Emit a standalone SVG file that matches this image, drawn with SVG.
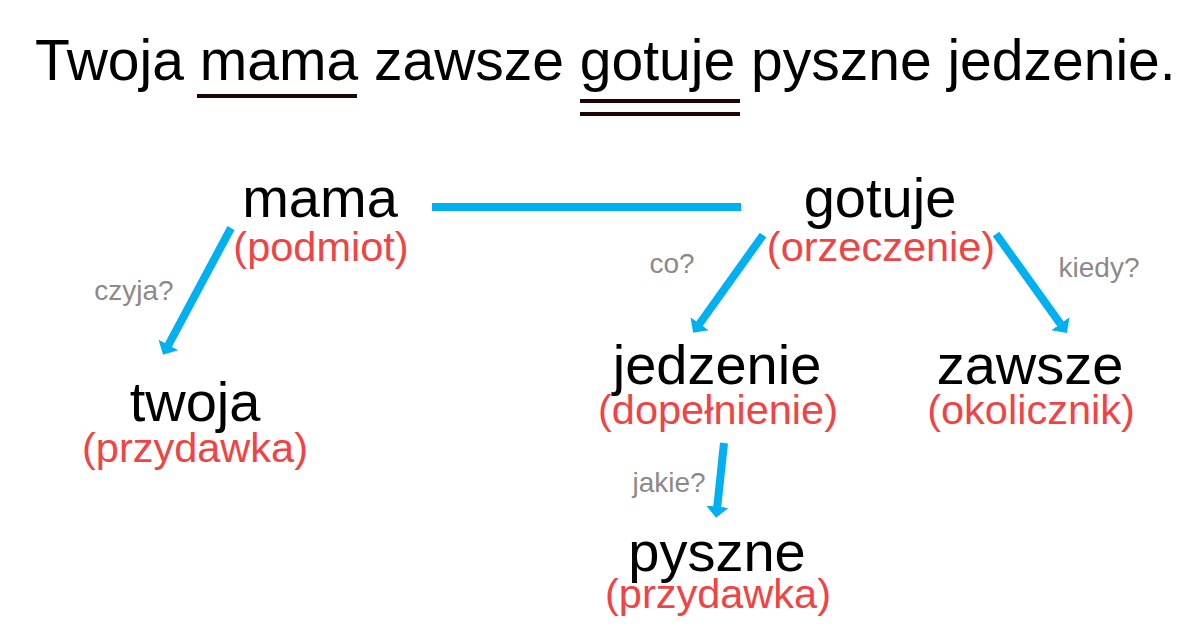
<svg xmlns="http://www.w3.org/2000/svg" width="1200" height="630" viewBox="0 0 1200 630">
  <style>
    text { font-family: "Liberation Sans", Arial, sans-serif; text-anchor: middle; }
    .title { font-size: 57px; fill: #000; text-anchor: start; }
    .word { font-size: 56px; fill: #000; }
    .role { font-size: 41.5px; fill: #f04444; }
    .q { font-size: 28px; fill: #8e8888; }
    .ul { stroke: #1e0404; stroke-width: 4; }
    .conn { stroke: #00b0f0; stroke-width: 8; fill: none; }
  </style>
  <defs>
    <marker id="ah" viewBox="0 -1.4 1.4 2.8" markerWidth="1.4" markerHeight="2.8" refX="0.05" refY="0" orient="auto" markerUnits="strokeWidth">
      <path d="M0,-1.4 L1.4,0 L0,1.4 z" fill="#00b0f0"/>
    </marker>
  </defs>
  <rect width="1200" height="630" fill="#fff"/>

  <g id="title">
    <text class="title" x="35" y="80">Twoja mama zawsze gotuje pyszne jedzenie.</text>
    <line class="ul" x1="197" y1="96" x2="357" y2="96"/>
    <line class="ul" x1="580" y1="101" x2="740" y2="101"/>
    <line class="ul" x1="580" y1="114" x2="740" y2="114"/>
  </g>

  <g id="connectors">
    <line class="conn" x1="432" y1="207" x2="741" y2="207"/>
    <line class="conn" x1="231" y1="228" x2="168.2" y2="345.3" marker-end="url(#ah)"/>
    <line class="conn" x1="763" y1="235" x2="699.4" y2="324" marker-end="url(#ah)"/>
    <line class="conn" x1="996" y1="234" x2="1060.6" y2="324.1" marker-end="url(#ah)"/>
    <line class="conn" x1="724" y1="443" x2="717.2" y2="507.1" marker-end="url(#ah)"/>
    <text class="q" x="134" y="300">czyja?</text>
    <text class="q" x="672" y="273">co?</text>
    <text class="q" x="1099" y="277">kiedy?</text>
    <text class="q" x="669" y="492">jakie?</text>
  </g>

  <g id="mama">
    <text class="word" x="320" y="217">mama</text>
    <text class="role" x="321" y="261">(podmiot)</text>
  </g>
  <g id="gotuje">
    <text class="word" x="880" y="217">gotuje</text>
    <text class="role" x="881" y="261">(orzeczenie)</text>
  </g>
  <g id="twoja">
    <text class="word" x="195" y="421">twoja</text>
    <text class="role" x="195" y="462">(przydawka)</text>
  </g>
  <g id="jedzenie">
    <text class="word" x="717" y="384">jedzenie</text>
    <text class="role" x="718" y="424">(dopełnienie)</text>
  </g>
  <g id="zawsze">
    <text class="word" x="1030" y="384">zawsze</text>
    <text class="role" x="1031" y="424">(okolicznik)</text>
  </g>
  <g id="pyszne">
    <text class="word" x="717" y="571">pyszne</text>
    <text class="role" x="718" y="608">(przydawka)</text>
  </g>
</svg>
